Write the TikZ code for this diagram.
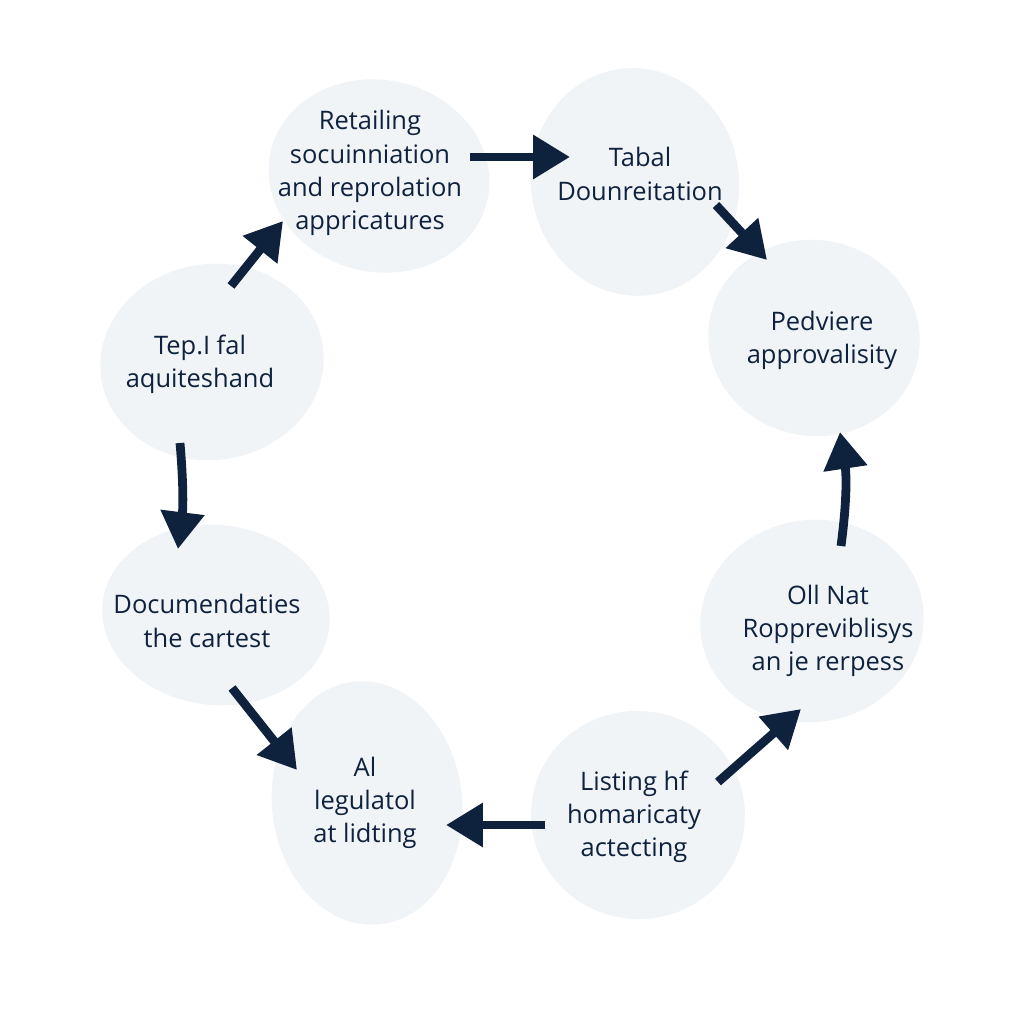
\documentclass[tikz,border=0pt]{standalone}
\usepackage{fontspec}
\setmainfont{Open Sans}
\usetikzlibrary{arrows.meta}
\definecolor{navy}{RGB}{14,34,62}
\definecolor{blobfill}{RGB}{240,244,247}
\begin{document}
\begin{tikzpicture}[x=0.02cm,y=-0.02cm,
		blob/.style={fill=blobfill},
		lbl/.style={align=center,text=navy,font=\fontsize{14.5}{18.9}\selectfont},
		flow/.style={draw=navy,line width=5pt,-{Triangle[length=21pt,width=24pt]}}]
	\useasboundingbox[fill=white] (0,0) rectangle (1024,1024);
	% soft blobs behind the labels
	\fill[blob,rotate around={-12:(379,176)}] (379,176) ellipse [x radius=111,y radius=96];
	\fill[blob,rotate around={8:(635,182)}] (635,182) ellipse [x radius=104,y radius=114];
	\fill[blob,rotate around={-10:(814,338)}] (814,338) ellipse [x radius=106,y radius=98];
	\fill[blob,rotate around={10:(812,621)}] (812,621) ellipse [x radius=112,y radius=101];
	\fill[blob,rotate around={-8:(638,815)}] (638,815) ellipse [x radius=107,y radius=104];
	\fill[blob,rotate around={6:(367,803)}] (367,803) ellipse [x radius=95,y radius=122];
	\fill[blob,rotate around={-6:(216,615)}] (216,615) ellipse [x radius=114,y radius=90];
	\fill[blob,rotate around={8:(212,362)}] (212,362) ellipse [x radius=112,y radius=98];
	% labels
	\node[lbl] (retail) at (370,173) {Retailing\\socuinniation\\and reprolation\\appricatures};
	\node[lbl] (tabal) at (640,174) {Tabal\\Dounreitation};
	\node[lbl] (pedv) at (822,340) {Pedviere\\approvalisity};
	\node[lbl] (ollnat) at (828,631) {Oll Nat\\Roppreviblisys\\an je rerpess};
	\node[lbl] (listing) at (634,817) {Listing hf\\homaricaty\\actecting};
	\node[lbl] (legul) at (365,803) {Al\\legulatol\\at lidting};
	\node[lbl] (docum) at (207,621) {Documendaties\\the cartest};
	\node[lbl] (tep) at (200,364) {Tep.I fal\\aquiteshand};
	% arrow ends
	\coordinate (a1s) at (231,286); \coordinate (a1e) at (283,221);
	\coordinate (a2s) at (470,157); \coordinate (a2e) at (570,157);
	\coordinate (a3s) at (716,205); \coordinate (a3e) at (767,260);
	\coordinate (a4s) at (841,546); \coordinate (a4e) at (840,432);
	\coordinate (a5s) at (718,782); \coordinate (a5e) at (801,709);
	\coordinate (a6s) at (545,825); \coordinate (a6e) at (446,825);
	\coordinate (a7s) at (232,688); \coordinate (a7e) at (297,770);
	\coordinate (a8s) at (180,443); \coordinate (a8e) at (178,549);
	\draw[flow] (a1s) -- (a1e);
	\draw[flow] (a2s) -- (a2e);
	\draw[flow] (a3s) -- (a3e);
	\draw[flow] (a4s) to[bend right=8] (a4e);
	\draw[flow] (a5s) -- (a5e);
	\draw[flow] (a6s) -- (a6e);
	\draw[flow] (a7s) -- (a7e);
	\draw[flow] (a8s) to[bend left=6] (a8e);
\end{tikzpicture}
\end{document}
